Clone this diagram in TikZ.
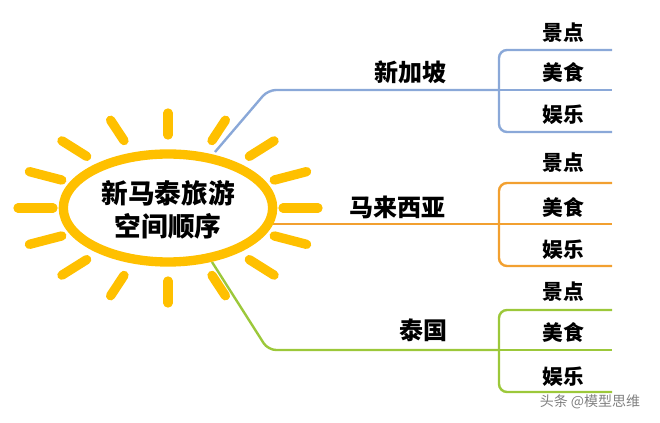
\documentclass[tikz,border=0pt]{standalone}
\usetikzlibrary{shapes.geometric}
\usepackage{fontspec}
\setmainfont{Noto Sans CJK SC}
\begin{document}
\begin{tikzpicture}[x=0.75pt,y=-0.75pt,
  ray/.style={line width=7pt,line cap=round,draw=sunc},
  br/.style={line width=1.8pt,rounded corners=6pt},
  main/.style={font=\bfseries\fontsize{18}{20}\selectfont},
  sub/.style={font=\bfseries\fontsize{15.5}{17}\selectfont}]
\definecolor{sunc}{HTML}{FFC000}
\definecolor{bluec}{HTML}{8AA8D8}
\definecolor{orangec}{HTML}{F2A030}
\definecolor{greenc}{HTML}{9CC83A}
\useasboundingbox (0,0) rectangle (660,423);
% rays
\foreach \a in {0,22.5,...,337.5}{
  \draw[ray] ({168+115*cos(\a)},{208+73*sin(\a)}) -- ({168+150*cos(\a)},{208+95*sin(\a)});
}
% branches
\draw[br,bluec] (215,152) -- (268,90) -- (498,90);
\draw[br,bluec] (612,50) -- (499,50) -- (499,132) -- (612,132);
\draw[br,bluec] (499,90) -- (612,90);
\draw[br,orangec] (270,224) -- (612,224);
\draw[br,orangec] (612,183) -- (499,183) -- (499,266) -- (612,266);
\draw[br,greenc] (212,262) -- (268,350) -- (498,350);
\draw[br,greenc] (612,310) -- (499,310) -- (499,392) -- (612,392);
\draw[br,greenc] (499,350) -- (612,350);
\node[draw=sunc,line width=7pt,fill=white,ellipse,minimum width=157pt,minimum height=81pt,inner sep=0pt] (c) at (168,208) {};
\node[font=\bfseries\fontsize{20}{25}\selectfont,align=center] (ct) at (168,210) {新马泰旅游\\空间顺序};
\node[main] (sg) at (410,72) {新加坡};
\node[main] (my) at (397,207) {马来西亚};
\node[main] (th) at (423,330) {泰国};
\foreach \y/\t [count=\i] in {33/景点,73/美食,115/娱乐,163/景点,208/美食,250/娱乐,292/景点,333/美食,377/娱乐}
  \node[sub] (s\i) at (563,\y) {\t};
\node[font=\fontsize{10.5}{12}\selectfont,text=gray] (wm) at (590,402) {头条 @模型思维};
\end{tikzpicture}
\end{document}
